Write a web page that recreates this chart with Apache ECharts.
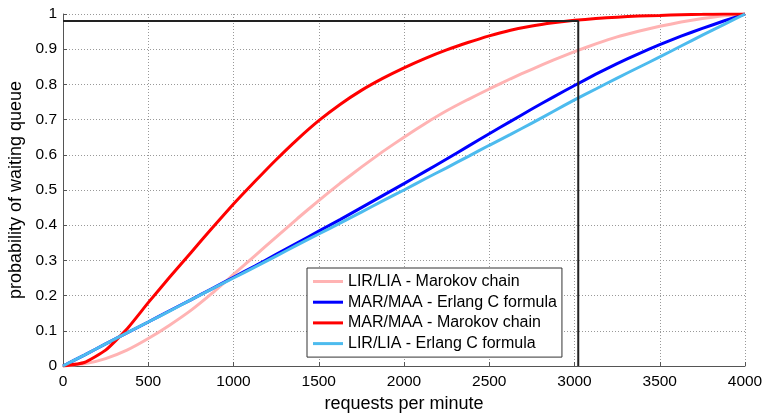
<!DOCTYPE html>
<html>
<head>
<meta charset="utf-8">
<script src="https://cdn.jsdelivr.net/npm/echarts@6/dist/echarts.min.js"></script>
<style>html,body{margin:0;padding:0;background:#fff;}#c{width:762px;height:414px;}</style>
</head>
<body>
<div id="c"></div>
<script>
// x positions (requests per minute), every 125
const xs = [0, 125, 250, 375, 500, 625, 750, 875, 1000, 1125, 1250, 1375, 1500, 1625, 1750, 1875, 2000,
            2125, 2250, 2375, 2500, 2625, 2750, 2875, 3000, 3125, 3250, 3375, 3500, 3625, 3750, 3875, 4000];
const lirMarkov = [0, 0.006, 0.021, 0.045, 0.078, 0.116, 0.158, 0.207, 0.26, 0.313, 0.366, 0.419, 0.47, 0.519, 0.565, 0.609, 0.65,
                   0.689, 0.725, 0.757, 0.787, 0.816, 0.843, 0.869, 0.893, 0.915, 0.935, 0.951, 0.965, 0.977, 0.987, 0.995, 1];
const marErlang = [0, 0.031, 0.063, 0.094, 0.125, 0.157, 0.188, 0.22, 0.252, 0.284, 0.317, 0.35, 0.383, 0.416, 0.45, 0.484, 0.518,
                   0.553, 0.588, 0.624, 0.66, 0.695, 0.73, 0.764, 0.797, 0.829, 0.859, 0.887, 0.913, 0.937, 0.959, 0.98, 1];
const marMarkov = [0, 0.01, 0.045, 0.105, 0.18, 0.252, 0.322, 0.392, 0.46, 0.524, 0.586, 0.644, 0.697, 0.743, 0.783, 0.817, 0.847,
                   0.874, 0.898, 0.919, 0.938, 0.954, 0.966, 0.975, 0.982, 0.987, 0.991, 0.994, 0.996, 0.998, 0.999, 1, 1];
const lirErlang = [0, 0.031, 0.063, 0.094, 0.125, 0.156, 0.188, 0.219, 0.25, 0.281, 0.312, 0.344, 0.375, 0.406, 0.437, 0.469, 0.5,
                   0.532, 0.563, 0.595, 0.627, 0.658, 0.69, 0.723, 0.756, 0.787, 0.818, 0.848, 0.878, 0.909, 0.94, 0.97, 1];
const names = ['LIR/LIA - Marokov chain', 'MAR/MAA - Erlang C formula', 'MAR/MAA - Marokov chain', 'LIR/LIA - Erlang C formula'];
const colors = ['#ffb3b3', '#0000ff', '#ff0000', '#4dbbee'];
// reference lines
const refX = [0, 3022, 3022];
const refY = [0.98, 0.98, 0];

const pair = (a) => xs.map((x, i) => [x, a[i]]);
const seriesData = [lirMarkov, marErlang, marMarkov, lirErlang];
const font = 'Liberation Sans, Arial, sans-serif';

const series = seriesData.map((d, i) => ({
  name: names[i], type: 'line', data: pair(d), smooth: 0.15, showSymbol: false, symbol: 'none',
  lineStyle: { color: colors[i], width: 3 }, itemStyle: { color: colors[i] }, z: 2 + i
}));
series.push({
  name: 'ref', type: 'line', data: refX.map((x, i) => [x, refY[i]]), showSymbol: false, symbol: 'none',
  lineStyle: { color: '#222', width: 2 }, z: 10
});

const chart = echarts.init(document.getElementById('c'), null, { renderer: 'canvas' });
chart.setOption({
  animation: false,
  backgroundColor: '#fff',
  grid: { left: 63, right: 17, top: 14, bottom: 48, containLabel: false, outerBoundsMode: 'none' },
  xAxis: {
    type: 'value', min: 0, max: 4000, interval: 500,
    name: 'requests per minute', nameLocation: 'middle', nameGap: 26,
    nameTextStyle: { fontFamily: font, fontSize: 18, color: '#000' },
    axisLine: { lineStyle: { color: '#555', width: 1 } },
    axisTick: { inside: true, length: 4, lineStyle: { color: '#555' } },
    axisLabel: { fontFamily: font, fontSize: 15.5, color: '#000', margin: 8, formatter: (v) => String(v) },
    splitLine: { show: true, lineStyle: { type: [1, 2], color: '#999', width: 1 } }
  },
  yAxis: {
    type: 'value', min: 0, max: 1, interval: 0.1,
    name: 'probability of waiting queue', nameLocation: 'middle', nameGap: 36,
    nameTextStyle: { fontFamily: font, fontSize: 18, color: '#000' },
    axisLine: { show: true, lineStyle: { color: '#555', width: 1 } },
    axisTick: { show: true, inside: true, length: 4, lineStyle: { color: '#555' } },
    axisLabel: { fontFamily: font, fontSize: 15.5, color: '#000', margin: 6 },
    splitLine: { show: true, lineStyle: { type: [1, 2], color: '#999', width: 1 } }
  },
  legend: {
    data: names.map((n) => ({ name: n, icon: 'rect' })),
    orient: 'vertical', left: 307, top: 268,
    itemWidth: 30, itemHeight: 3, itemGap: 3.7,
    padding: [5, 5, 5, 6],
    backgroundColor: '#fff', borderColor: '#333', borderWidth: 1,
    textStyle: { fontFamily: font, fontSize: 16, color: '#000', lineHeight: 17 }
  },
  series: series
});
</script>
</body>
</html>
